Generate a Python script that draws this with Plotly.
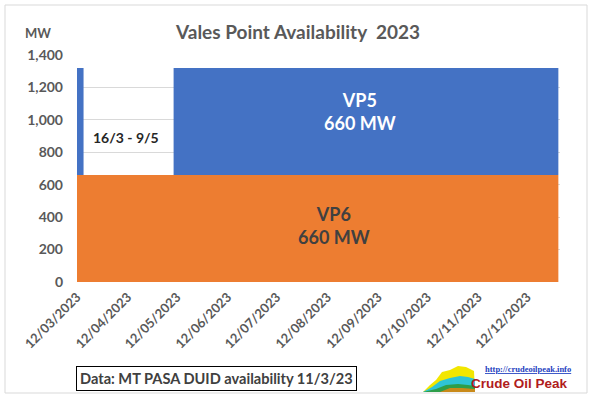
import plotly.graph_objects as go

# ---- data ----
vp6_dates = ["2023-03-12", "2023-12-31"]
vp6_mw = [660, 660]
vp5_dates = ["2023-03-12", "2023-03-16", "2023-05-10", "2023-12-31"]
vp5_mw = [660, 0, 660, 660]
tick_dates = ["2023-03-12", "2023-04-12", "2023-05-12", "2023-06-12", "2023-07-12",
              "2023-08-12", "2023-09-12", "2023-10-12", "2023-11-12", "2023-12-12"]
tick_labels = ["12/03/2023", "12/04/2023", "12/05/2023", "12/06/2023", "12/07/2023",
               "12/08/2023", "12/09/2023", "12/10/2023", "12/11/2023", "12/12/2023"]
y_ticks = [0, 200, 400, 600, 800, 1000, 1200, 1400]


def step_value(dates, vals, d):
    v = vals[0]
    for dd, vv in zip(dates, vals):
        if dd <= d:
            v = vv
    return v


# stacked top of VP5 (VP6 + VP5)
vp5_top = [step_value(vp6_dates, vp6_mw, d) + v for d, v in zip(vp5_dates, vp5_mw)]

W, H = 592, 397
L, R, T, B = 77, 32, 55, 115
PW, PH = W - L - R, H - T - B


def px(p):
    return (p - L) / PW


def py(q):
    return (H - B - q) / PH


FONT = "Lato"
GREY = "#595959"

fig = go.Figure()
fig.add_trace(go.Scatter(x=vp6_dates, y=vp6_mw, fill="tozeroy", line_shape="hv",
                         mode="lines", line=dict(width=0, color="#ED7D31"),
                         fillcolor="#ED7D31", name="VP6"))
fig.add_trace(go.Scatter(x=vp5_dates, y=vp5_top, fill="tonexty", line_shape="hv",
                         mode="lines", line=dict(width=0, color="#4472C4"),
                         fillcolor="#4472C4", name="VP5"))

fig.update_layout(
    width=W, height=H,
    margin=dict(l=L, r=R, t=T, b=B, autoexpand=False),
    paper_bgcolor="white", plot_bgcolor="white",
    showlegend=False,
    font=dict(family=FONT, color=GREY),
    xaxis=dict(type="date", range=["2023-03-12", "2024-01-01"], tickmode="array",
               tickvals=tick_dates, ticktext=tick_labels, tickangle=-45,
               showgrid=False, zeroline=False, showline=False, ticklabelstandoff=4,
               tickfont=dict(size=13, color=GREY, family=FONT, weight="bold")),
    yaxis=dict(range=[0, 1400], tickvals=y_ticks, tickformat=",",
               showgrid=True, gridcolor="#D9D9D9", gridwidth=1, zeroline=False,
               showline=False, ticks="", ticklabelstandoff=13,
               tickfont=dict(size=14, color=GREY, family=FONT, weight="bold")),
)

ann = [
    dict(x=px(297), y=py(31), text="Vales Point Availability  2023",
         font=dict(size=19, color=GREY, family=FONT, weight="bold")),
    dict(x=px(38), y=py(33), text="MW", font=dict(size=13, color=GREY, family=FONT, weight="bold")),
    dict(x=px(360), y=py(112), text="VP5<br>660 MW",
         font=dict(size=18, color="white", family=FONT, weight="bold")),
    dict(x=px(334), y=py(225), text="VP6<br>660 MW",
         font=dict(size=18, color="#404040", family=FONT, weight="bold")),
    dict(x=px(126), y=py(137), text="16/3 - 9/5",
         font=dict(size=14, color="#262626", family=FONT, weight="bold")),
    dict(x=px(216), y=py(378), text="Data: MT PASA DUID availability 11/3/23",
         font=dict(size=14.6, color="#404040", family=FONT, weight="bold"),
         bordercolor="black", borderwidth=1, borderpad=3, bgcolor="white"),
    dict(x=px(528), y=py(369), text="<u>http://crudeoilpeak.info</u>",
         font=dict(size=8.5, color="#1F3FBF", family="Liberation Serif", weight="bold")),
    dict(x=px(519), y=py(383), text="Crude Oil Peak",
         font=dict(size=13.5, color="#B01C1C", family="Liberation Sans", weight="bold")),
]
for a in ann:
    a.update(xref="paper", yref="paper", showarrow=False, xanchor="center", yanchor="middle")
    fig.add_annotation(**a)

# outer chart border
fig.add_shape(type="rect", xref="paper", yref="paper",
              x0=px(5), x1=px(587), y0=py(393), y1=py(5),
              line=dict(color="#D9D9D9", width=1), layer="below")


# small logo graphic (decorative)
def path(pts):
    return "M " + " L ".join(f"{px(a)},{py(b)}" for a, b in pts) + " Z"


logo = [
    ("#F2E600", [(423, 392), (430, 385), (436, 380), (442, 372), (450, 370), (458, 366), (466, 367), (474, 371), (475, 392)]),
    ("#2EC4D6", [(423, 392), (432, 387), (440, 381), (450, 378), (460, 376), (468, 377), (475, 379), (475, 392)]),
    ("#2E9E4A", [(423, 392), (436, 389), (446, 385), (458, 384), (468, 385), (475, 386), (475, 392)]),
    ("#C98A1A", [(440, 392), (450, 388), (462, 388), (475, 389), (475, 392)]),
]
for col, pts in logo:
    fig.add_shape(type="path", xref="paper", yref="paper", path=path(pts),
                  fillcolor=col, line=dict(width=0))

fig.write_html("out.html", config={"displayModeBar": False},
               post_script="document.body.style.margin='0px';document.body.style.overflow='hidden';")
